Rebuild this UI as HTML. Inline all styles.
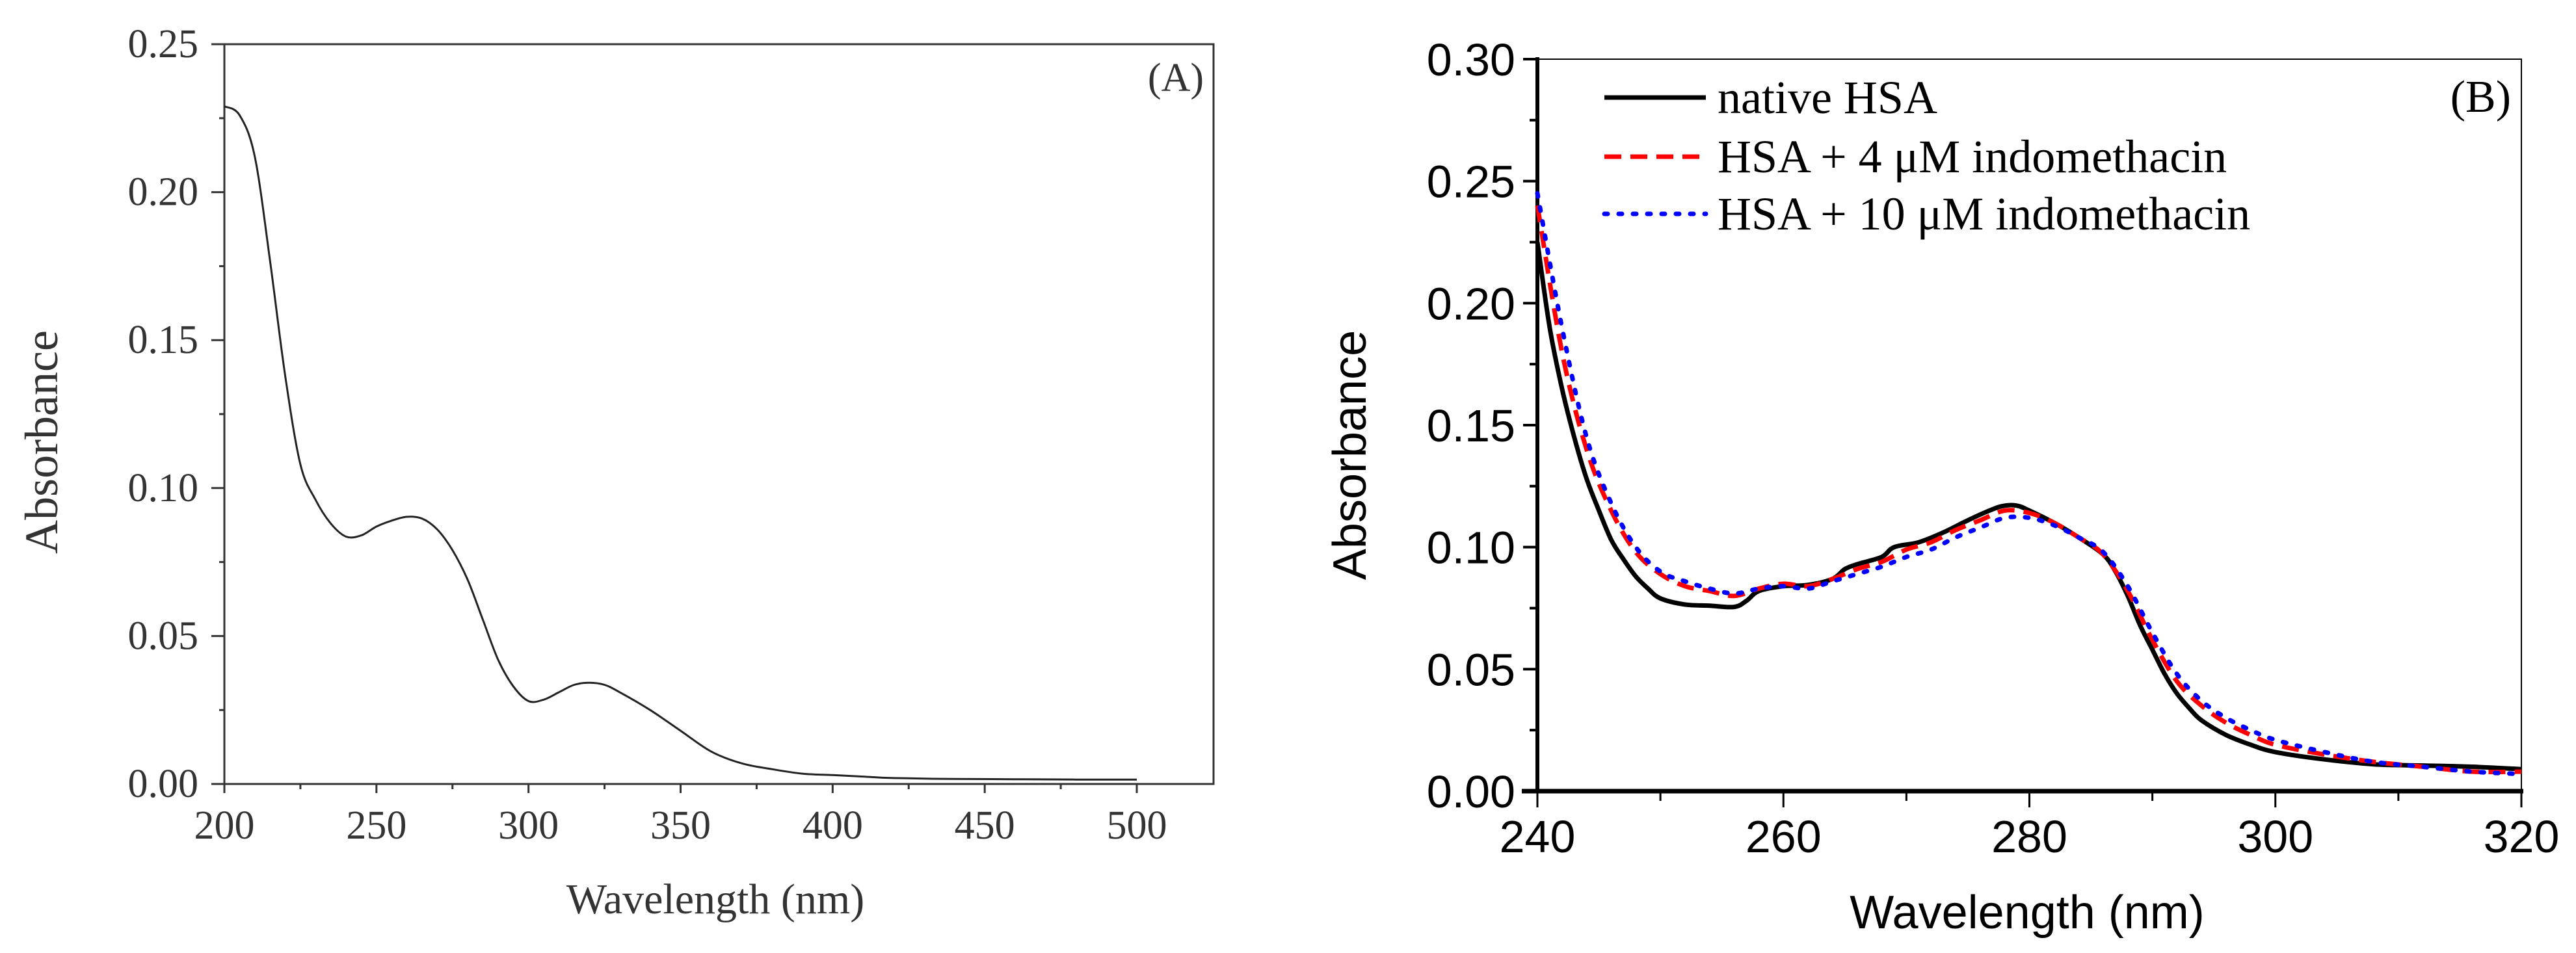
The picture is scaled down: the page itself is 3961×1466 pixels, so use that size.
<!DOCTYPE html>
<html><head><meta charset="utf-8"><style>
html,body{margin:0;padding:0;background:#fff;}
svg{display:block;}
</style></head><body>
<svg id="chart" width="3961" height="1466" viewBox="0 0 3961 1466" xmlns="http://www.w3.org/2000/svg">
<g id="panelA"></g>
<g id="panelB"></g>
</svg>
<script>
// Panel A data
const aWave = [200,205,210,215,220,225,230,235,240,245,250,255,260,265,270,275,280,285,290,295,300,305,310,315,320,325,330,340,350,360,370,380,390,400,410,420,440,460,480,500];
const aAbs  = [0.229,0.226,0.212,0.177,0.138,0.108,0.096,0.088,0.0836,0.084,0.087,0.089,0.0903,0.0897,0.086,0.079,0.069,0.0555,0.042,0.033,0.028,0.0285,0.031,0.0335,0.0342,0.0335,0.031,0.025,0.018,0.011,0.007,0.005,0.0035,0.003,0.0025,0.002,0.0017,0.0016,0.0015,0.0015];
const aXTicks = [200,250,300,350,400,450,500];
const aYTicks = [0.00,0.05,0.10,0.15,0.20,0.25];
// Panel B data
const bWaveNative = [240,241,242,243,244,245,246,247,248,249,250,252,254,256,257,258,260,262,264,265,266,268,269,271,273,275,277,278,279,280,282,284,286,287,288,289,290,291,292,293,294,296,298,300,304,308,312,316,320];
const bNative = [0.225,0.19,0.165,0.145,0.128,0.115,0.103,0.095,0.088,0.083,0.079,0.0765,0.076,0.0755,0.078,0.082,0.084,0.0845,0.087,0.091,0.093,0.096,0.1,0.102,0.106,0.111,0.1155,0.117,0.117,0.115,0.11,0.104,0.097,0.09,0.08,0.068,0.058,0.048,0.04,0.034,0.029,0.023,0.019,0.016,0.013,0.011,0.0105,0.01,0.009];
const bWave = [240,242,244,246,248,250,252,254,256,258,260,262,264,266,268,270,272,274,276,278,280,282,284,286,288,290,292,294,296,298,300,304,308,312,316,320];
const bIndo4 = [0.24,0.18,0.14,0.115,0.098,0.089,0.084,0.082,0.08,0.083,0.085,0.084,0.087,0.091,0.094,0.099,0.102,0.107,0.111,0.115,0.114,0.11,0.104,0.097,0.082,0.062,0.045,0.035,0.028,0.023,0.019,0.015,0.012,0.01,0.008,0.008];
const bIndo10 = [0.245,0.19,0.145,0.118,0.1,0.09,0.086,0.083,0.081,0.083,0.084,0.083,0.086,0.089,0.092,0.096,0.099,0.104,0.108,0.112,0.112,0.109,0.104,0.098,0.084,0.065,0.048,0.037,0.03,0.025,0.021,0.016,0.012,0.01,0.008,0.007];
const bXTicks = [240,260,280,300,320];
const bYTicks = [0.00,0.05,0.10,0.15,0.20,0.25,0.30];

const NS='http://www.w3.org/2000/svg';
function mk(parent,tag,attrs,txt){const e=document.createElementNS(NS,tag);for(const k in attrs)e.setAttribute(k,attrs[k]);if(txt!==undefined)e.textContent=txt;parent.appendChild(e);return e;}
function smooth(pts){let d='M'+pts[0][0].toFixed(1)+','+pts[0][1].toFixed(1);
 for(let i=0;i<pts.length-1;i++){const p0=pts[Math.max(0,i-1)],p1=pts[i],p2=pts[i+1],p3=pts[Math.min(pts.length-1,i+2)];
 const c1=[p1[0]+(p2[0]-p0[0])/6,p1[1]+(p2[1]-p0[1])/6],c2=[p2[0]-(p3[0]-p1[0])/6,p2[1]-(p3[1]-p1[1])/6];
 d+=' C'+c1[0].toFixed(1)+','+c1[1].toFixed(1)+' '+c2[0].toFixed(1)+','+c2[1].toFixed(1)+' '+p2[0].toFixed(1)+','+p2[1].toFixed(1);}return d;}

// ---------- Panel A ----------
const A=document.getElementById('panelA');
const axA=v=>345+(v-200)*(1748-345)/300;
const ayA=v=>1206-(v)*(1206-68)/0.25;
const serif='"Liberation Serif", serif';
let e;
e=mk(A,'rect',{x:345,y:68,width:1521,height:1138,fill:'none',stroke:'#333','stroke-width':3});


aYTicks.forEach(v=>{
 e=mk(A,'line',{x1:325,x2:345,y1:ayA(v),y2:ayA(v),stroke:'#333','stroke-width':3});
 
 
 e=mk(A,'text',{x:305,y:ayA(v)+20,'text-anchor':'end','font-family':serif,'font-size':62,fill:'#333'},v.toFixed(2));
 
 
 if(v<0.25){e=mk(A,'line',{x1:337,x2:345,y1:ayA(v+0.025),y2:ayA(v+0.025),stroke:'#333','stroke-width':3});
 
 }
});
aXTicks.forEach(v=>{
 e=mk(A,'line',{x1:axA(v),x2:axA(v),y1:1206,y2:1220,stroke:'#333','stroke-width':3});
 
 
 e=mk(A,'text',{x:axA(v),y:1290,'text-anchor':'middle','font-family':serif,'font-size':62,fill:'#333'},String(v));
 
 
 if(v<500){e=mk(A,'line',{x1:axA(v+25),x2:axA(v+25),y1:1206,y2:1214,stroke:'#333','stroke-width':3});
 
 }
});
e=mk(A,'path',{d:smooth(aWave.map((w,i)=>[axA(w),ayA(aAbs[i])])),fill:'none',stroke:'#222','stroke-width':3});


e=mk(A,'text',{x:1100,y:1405,'text-anchor':'middle','font-family':serif,'font-size':66,fill:'#333'},'Wavelength (nm)');


e=mk(A,'text',{x:0,y:0,'text-anchor':'middle','font-family':serif,'font-size':72,fill:'#333',transform:'translate(88,680) rotate(-90)'},'Absorbance');


e=mk(A,'text',{x:1851,y:140,'text-anchor':'end','font-family':serif,'font-size':62,fill:'#333'},'(A)');



// ---------- Panel B ----------
const B=document.getElementById('panelB');
const bx=v=>2364+(v-240)*(3877-2364)/80;
const by=v=>1217-v*(1217-91)/0.30;
const sans='"Liberation Sans", sans-serif';
e=mk(B,'rect',{x:2364,y:91,width:1513,height:1126,fill:'none',stroke:'#000','stroke-width':2});


e=mk(B,'line',{x1:2364,x2:2364,y1:88,y2:1220,stroke:'#000','stroke-width':6});


e=mk(B,'line',{x1:2340,x2:3880,y1:1217,y2:1217,stroke:'#000','stroke-width':7});


bYTicks.forEach(v=>{
 e=mk(B,'line',{x1:2342,x2:2364,y1:by(v),y2:by(v),stroke:'#000','stroke-width':4});
 
 
 e=mk(B,'text',{x:2330,y:by(v)+25,'text-anchor':'end','font-family':sans,'font-size':70,fill:'#000'},v.toFixed(2));
 
 
 if(v<0.30){e=mk(B,'line',{x1:2352,x2:2364,y1:by(v+0.025),y2:by(v+0.025),stroke:'#000','stroke-width':4});
 
 }
});
bXTicks.forEach(v=>{
 e=mk(B,'line',{x1:bx(v),x2:bx(v),y1:1217,y2:1242,stroke:'#000','stroke-width':3});
 
 
 e=mk(B,'text',{x:bx(v),y:1311,'text-anchor':'middle','font-family':sans,'font-size':70,fill:'#000'},String(v));
 
 
 if(v<320){e=mk(B,'line',{x1:bx(v+10),x2:bx(v+10),y1:1217,y2:1232,stroke:'#000','stroke-width':3});
 
 }
});
e=mk(B,'path',{d:smooth(bWaveNative.map((w,i)=>[bx(w),by(bNative[i])])),fill:'none',stroke:'#000','stroke-width':7});


e=mk(B,'path',{d:smooth(bWave.map((w,i)=>[bx(w),by(bIndo4[i])])),fill:'none',stroke:'#f00','stroke-width':7,'stroke-dasharray':'26,14'});


e=mk(B,'path',{d:smooth(bWave.map((w,i)=>[bx(w),by(bIndo10[i])])),fill:'none',stroke:'#00f','stroke-width':7,'stroke-dasharray':'5,17','stroke-linecap':'round'});


// legend
const legY=[150,241,329];
e=mk(B,'line',{x1:2467,x2:2623,y1:legY[0],y2:legY[0],stroke:'#000','stroke-width':7});


e=mk(B,'line',{x1:2467,x2:2623,y1:legY[1],y2:legY[1],stroke:'#f00','stroke-width':7,'stroke-dasharray':'26,14'});


e=mk(B,'line',{x1:2467,x2:2623,y1:legY[2],y2:legY[2],stroke:'#00f','stroke-width':7,'stroke-dasharray':'5,17','stroke-linecap':'round'});


['native HSA','HSA + 4 \u03BCM indomethacin','HSA + 10 \u03BCM indomethacin'].forEach((t,i)=>{
 e=mk(B,'text',{x:2641,y:legY[i]+24,'font-family':serif,'font-size':72,fill:'#000'},t);
 
 
});
e=mk(B,'text',{x:3861,y:172,'text-anchor':'end','font-family':serif,'font-size':70,fill:'#000'},'(B)');


e=mk(B,'text',{x:3117,y:1428,'text-anchor':'middle','font-family':sans,'font-size':72,fill:'#000'},'Wavelength (nm)');


e=mk(B,'text',{x:0,y:0,'text-anchor':'middle','font-family':sans,'font-size':72,fill:'#000',transform:'translate(2100,700) rotate(-90)'},'Absorbance');


</script>
</body></html>
